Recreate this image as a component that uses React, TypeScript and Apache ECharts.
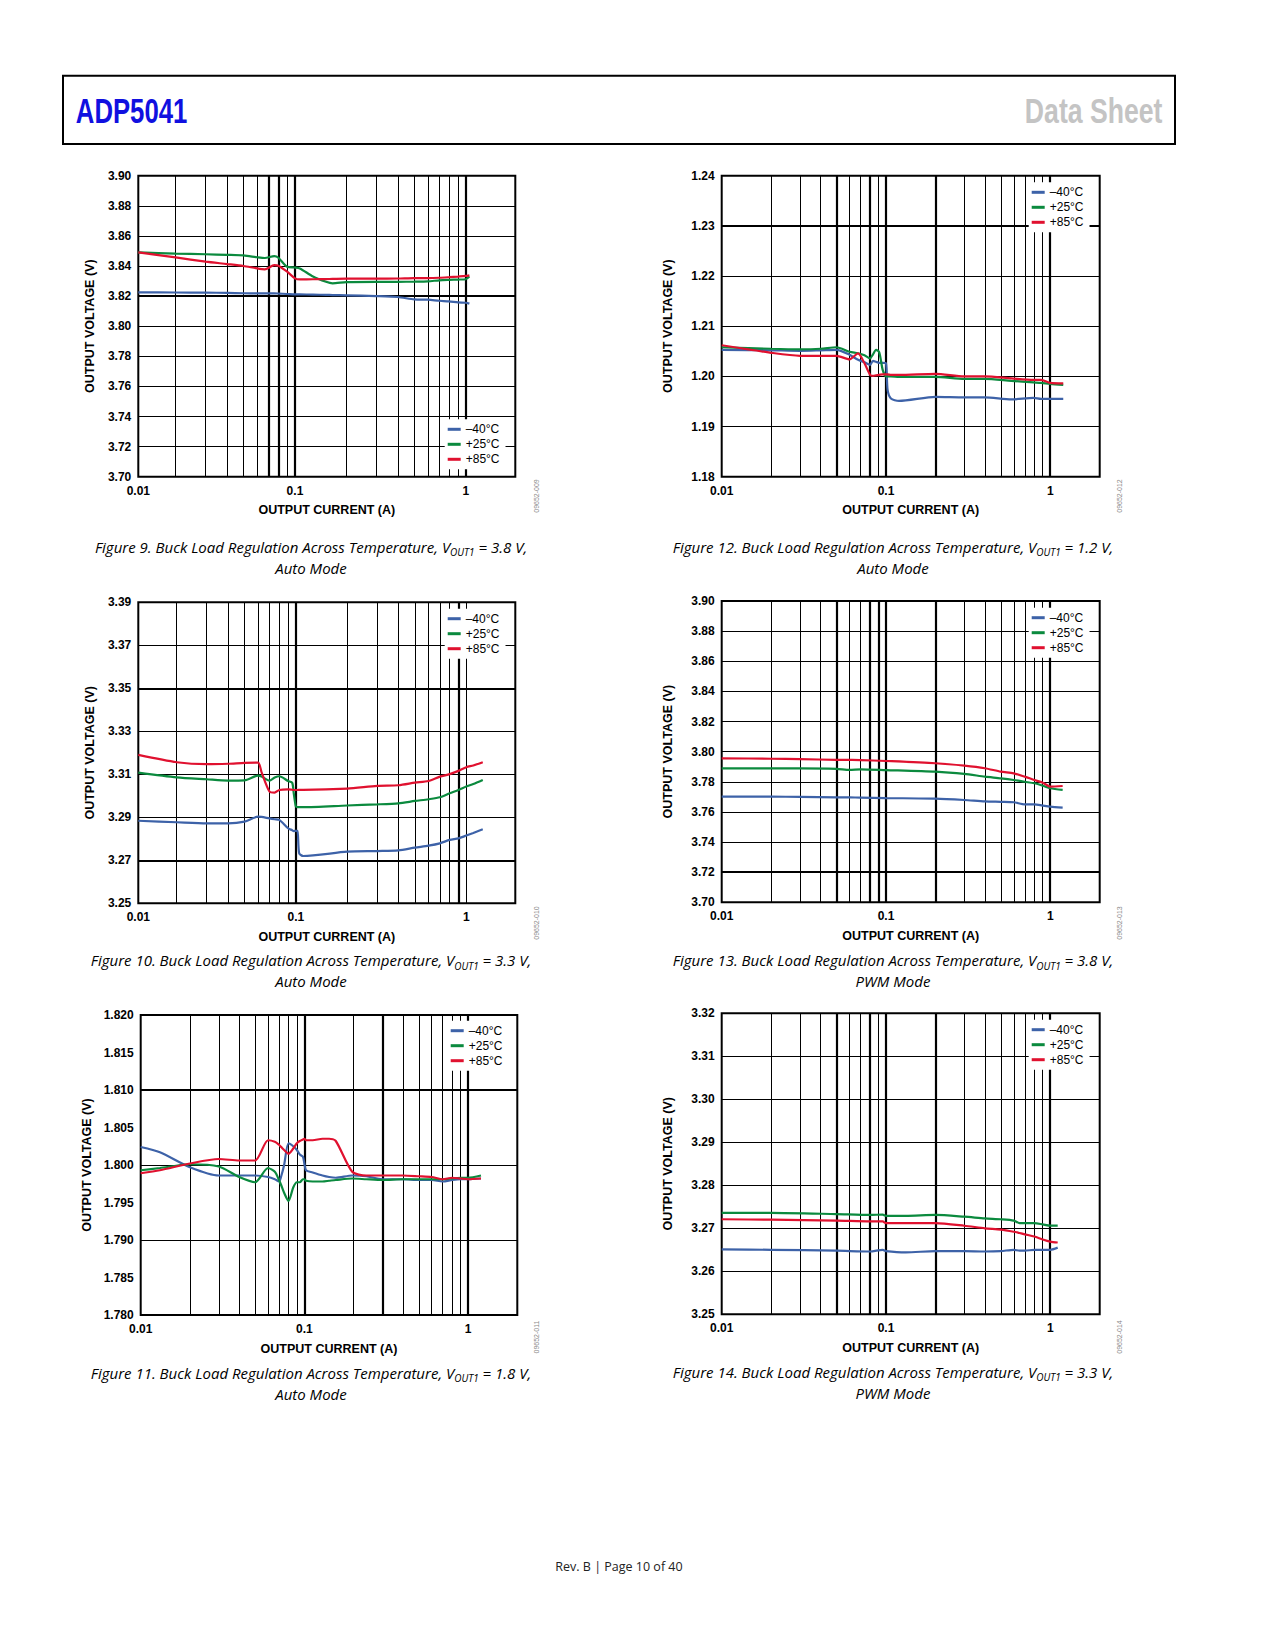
import { useEffect, useRef } from 'react'
import * as echarts from 'echarts'

const TEMPS = ['–40°C', '+25°C', '+85°C']
const COLORS = ['#3d62a8', '#0b8a3e', '#e0112f']
const X_TICK_TEXT = ['0.01', '0.1', '1']
const X_GRID = [0.02, 0.03, 0.04, 0.05, 0.06, 0.07, 0.08, 0.09, 0.1, 0.2, 0.3, 0.4, 0.5, 0.6, 0.7, 0.8, 0.9, 1]

// Figure 9: VOUT1 = 3.8 V, auto mode (its log scale starts a little above 0.01)
const F9_X_RANGE = [0.0121, 1.95]
const F9_I = [0.0121, 0.02, 0.03, 0.04, 0.05, 0.06, 0.0666, 0.0757, 0.08, 0.09, 0.1, 0.1068, 0.1275, 0.152, 0.166, 0.2, 0.3, 0.4, 0.5, 0.6, 0.7, 0.8, 0.9, 1.0, 1.05]
const F9_M40 = [3.8225, 3.8224, 3.8223, 3.8221, 3.8219, 3.8218, 3.8218, 3.8218, 3.8217, 3.8214, 3.8211, 3.8211, 3.821, 3.8208, 3.8207, 3.8205, 3.82, 3.8194, 3.8178, 3.8176, 3.8169, 3.8165, 3.8158, 3.8156, 3.815]
const F9_P25 = [3.849, 3.8482, 3.8478, 3.8474, 3.847, 3.8458, 3.8453, 3.8466, 3.8455, 3.8395, 3.839, 3.8384, 3.833, 3.8295, 3.8285, 3.8293, 3.8295, 3.8295, 3.8296, 3.8298, 3.8305, 3.8308, 3.831, 3.8312, 3.833]
const F9_P85 = [3.849, 3.8457, 3.8429, 3.8413, 3.84, 3.8384, 3.8378, 3.8406, 3.8402, 3.8362, 3.8318, 3.8311, 3.8312, 3.8313, 3.8314, 3.8316, 3.8316, 3.8317, 3.832, 3.832, 3.8322, 3.8326, 3.833, 3.8334, 3.8338]
const F9_Y = [3.7, 3.72, 3.74, 3.76, 3.78, 3.8, 3.82, 3.84, 3.86, 3.88, 3.9]

// Figure 12: VOUT1 = 1.2 V, auto mode
const F12_X_RANGE = [0.01, 2]
const F12_I = [0.01, 0.02, 0.03, 0.04, 0.05, 0.06, 0.0676, 0.074, 0.08, 0.0834, 0.087, 0.091, 0.0955, 0.1, 0.1023, 0.1072, 0.12, 0.2, 0.3, 0.4, 0.58, 0.79, 0.88, 1.0, 1.2]
const F12_M40 = [1.2053, 1.2052, 1.2051, 1.2052, 1.2053, 1.2043, 1.2033, 1.2028, 1.2023, 1.2031, 1.2029, 1.2027, 1.2027, 1.2026, 1.1973, 1.1956, 1.1951, 1.1959, 1.1958, 1.1958, 1.1954, 1.1957, 1.1955, 1.1955, 1.1955]
const F12_P25 = [1.2058, 1.2055, 1.2054, 1.2055, 1.2058, 1.2049, 1.2046, 1.2042, 1.2036, 1.2044, 1.2053, 1.2048, 1.2013, 1.2, 1.2, 1.2, 1.1999, 1.1999, 1.1995, 1.1995, 1.1991, 1.1988, 1.1987, 1.1985, 1.1983]
const F12_P85 = [1.2062, 1.2047, 1.2041, 1.2041, 1.2041, 1.2034, 1.2046, 1.2026, 1.2003, 1.2001, 1.2002, 1.2003, 1.2004, 1.2004, 1.2004, 1.2003, 1.2003, 1.2005, 1.2, 1.2, 1.1996, 1.1993, 1.1993, 1.1987, 1.1986]
const F12_Y = [1.18, 1.19, 1.2, 1.21, 1.22, 1.23, 1.24]

// Figure 10: VOUT1 = 3.3 V, auto mode (log scale starts a little above 0.01)
const F10_X_RANGE = [0.0119, 1.94]
const F10_I = [0.0119, 0.02, 0.03, 0.04, 0.05, 0.06, 0.0629, 0.07, 0.0751, 0.08, 0.09, 0.0952, 0.0972, 0.1, 0.1023, 0.1046, 0.1104, 0.2, 0.3, 0.4, 0.5, 0.6, 0.7, 0.8, 0.9, 1.0, 1.1, 1.25]
const F10_M40 = [3.2884, 3.2877, 3.2872, 3.2872, 3.288, 3.2903, 3.2902, 3.2895, 3.2891, 3.2888, 3.2849, 3.284, 3.2836, 3.2837, 3.2837, 3.2733, 3.272, 3.274, 3.2743, 3.2746, 3.2759, 3.2768, 3.2779, 3.2795, 3.2802, 3.2815, 3.2827, 3.2844]
const F10_P25 = [3.3108, 3.3086, 3.3077, 3.3071, 3.3072, 3.3094, 3.309, 3.3071, 3.3085, 3.3091, 3.3069, 3.3061, 3.3012, 3.295, 3.2947, 3.2947, 3.2947, 3.2955, 3.296, 3.2965, 3.2976, 3.2984, 3.2993, 3.3012, 3.3027, 3.3043, 3.3055, 3.3074]
const F10_P85 = [3.319, 3.3156, 3.3147, 3.3149, 3.3153, 3.3154, 3.311, 3.302, 3.3015, 3.3027, 3.303, 3.3028, 3.3027, 3.3027, 3.3027, 3.3028, 3.3028, 3.3033, 3.3046, 3.3049, 3.3061, 3.3069, 3.3089, 3.3101, 3.3116, 3.3133, 3.3141, 3.3156]
const F10_Y = [3.25, 3.27, 3.29, 3.31, 3.33, 3.35, 3.37, 3.39]

// Figure 13: VOUT1 = 3.8 V, PWM mode
const F13_X_RANGE = [0.01, 2]
const F13_I = [0.01, 0.02, 0.03, 0.05, 0.06, 0.07, 0.1, 0.2, 0.3, 0.4, 0.5, 0.6, 0.7, 0.8, 0.9, 1.0, 1.19]
const F13_M40 = [3.7701, 3.7701, 3.77, 3.7697, 3.7696, 3.7695, 3.7692, 3.7688, 3.7679, 3.767, 3.7667, 3.7664, 3.765, 3.765, 3.7642, 3.7635, 3.7628]
const F13_P25 = [3.7889, 3.7889, 3.7889, 3.7886, 3.7879, 3.7883, 3.7878, 3.7867, 3.7852, 3.7834, 3.7823, 3.7812, 3.78, 3.779, 3.7774, 3.7757, 3.7746]
const F13_P85 = [3.7956, 3.7953, 3.795, 3.7946, 3.7945, 3.7944, 3.7938, 3.7923, 3.7907, 3.789, 3.7867, 3.7856, 3.7834, 3.7812, 3.7794, 3.7768, 3.7772]
const F13_Y = [3.7, 3.72, 3.74, 3.76, 3.78, 3.8, 3.82, 3.84, 3.86, 3.88, 3.9]

// Figure 11: VOUT1 = 1.8 V, auto mode
const F11_X_RANGE = [0.01, 2]
const F11_I = [0.01, 0.0131, 0.02, 0.03, 0.04, 0.05, 0.06, 0.066, 0.07, 0.0722, 0.0752, 0.08, 0.0855, 0.09, 0.0938, 0.098, 0.1, 0.1023, 0.1124, 0.129, 0.1417, 0.1556, 0.196, 0.239, 0.3, 0.4, 0.5, 0.6, 0.7, 0.8, 0.9, 1.0, 1.2]
const F11_M40 = [1.8024, 1.8017, 1.7997, 1.7986, 1.7986, 1.7986, 1.7984, 1.7981, 1.7978, 1.7985, 1.8, 1.8029, 1.8025, 1.802, 1.8014, 1.8011, 1.8002, 1.7993, 1.799, 1.7986, 1.7984, 1.7983, 1.7986, 1.7985, 1.7981, 1.7981, 1.798, 1.798, 1.7978, 1.798, 1.7981, 1.7981, 1.7982]
const F11_P25 = [1.7993, 1.7996, 1.8001, 1.7998, 1.7984, 1.7977, 1.7996, 1.7991, 1.798, 1.7973, 1.7963, 1.7952, 1.797, 1.7977, 1.7977, 1.7981, 1.7981, 1.7979, 1.7978, 1.7978, 1.7979, 1.798, 1.7982, 1.7981, 1.798, 1.7981, 1.7981, 1.7981, 1.7981, 1.7982, 1.7983, 1.7983, 1.7986]
const F11_P85 = [1.7989, 1.7993, 1.8002, 1.8008, 1.8006, 1.8006, 1.8033, 1.8031, 1.8027, 1.8024, 1.802, 1.8015, 1.8022, 1.8029, 1.8032, 1.8034, 1.8035, 1.8033, 1.8033, 1.8035, 1.8035, 1.8032, 1.7991, 1.7986, 1.7986, 1.7986, 1.7985, 1.7984, 1.7981, 1.7983, 1.7982, 1.7981, 1.7982]
const F11_Y = [1.78, 1.785, 1.79, 1.795, 1.8, 1.805, 1.81, 1.815, 1.82]

// Figure 14: VOUT1 = 3.3 V, PWM mode
const F14_X_RANGE = [0.01, 2]
const F14_I = [0.01, 0.02, 0.05, 0.08, 0.0955, 0.1, 0.132, 0.2, 0.3, 0.4, 0.5, 0.6, 0.65, 0.7, 0.8, 0.9, 1.0, 1.11]
const F14_M40 = [3.2651, 3.265, 3.2648, 3.2646, 3.265, 3.2647, 3.2644, 3.2647, 3.2647, 3.2646, 3.2647, 3.265, 3.2648, 3.2648, 3.265, 3.265, 3.265, 3.2655]
const F14_P25 = [3.2736, 3.2736, 3.2733, 3.2731, 3.2732, 3.2729, 3.2729, 3.2731, 3.2727, 3.2723, 3.2721, 3.2718, 3.2712, 3.2712, 3.2712, 3.2709, 3.2706, 3.2706]
const F14_P85 = [3.2721, 3.272, 3.2718, 3.2716, 3.2716, 3.2712, 3.2712, 3.2712, 3.2706, 3.27, 3.2697, 3.2692, 3.2689, 3.2686, 3.2681, 3.2674, 3.2669, 3.2667]
const F14_Y = [3.25, 3.26, 3.27, 3.28, 3.29, 3.3, 3.31, 3.32]

const PANELS = [
  { fig: 9, xRange: F9_X_RANGE, cur: F9_I, vals: [F9_M40, F9_P25, F9_P85], yTicks: F9_Y, step: 0.02, dec: 2, thickX: [0.07, 0.08, 0.1, 1], thickY: [3.82], vout: '3.8', mode: 'Auto Mode', id: '09652-009' },
  { fig: 12, xRange: F12_X_RANGE, cur: F12_I, vals: [F12_M40, F12_P25, F12_P85], yTicks: F12_Y, step: 0.01, dec: 2, thickX: [0.05, 0.08, 0.1, 0.2, 1], thickY: [1.23], vout: '1.2', mode: 'Auto Mode', id: '09652-012' },
  { fig: 10, xRange: F10_X_RANGE, cur: F10_I, vals: [F10_M40, F10_P25, F10_P85], yTicks: F10_Y, step: 0.01, dec: 2, thickX: [0.1, 0.9], thickY: [3.35, 3.27], vout: '3.3', mode: 'Auto Mode', id: '09652-010' },
  { fig: 13, xRange: F13_X_RANGE, cur: F13_I, vals: [F13_M40, F13_P25, F13_P85], yTicks: F13_Y, step: 0.02, dec: 2, thickX: [0.05, 0.08, 0.09, 0.1, 0.2, 1], thickY: [3.72], vout: '3.8', mode: 'PWM Mode', id: '09652-013' },
  { fig: 11, xRange: F11_X_RANGE, cur: F11_I, vals: [F11_M40, F11_P25, F11_P85], yTicks: F11_Y, step: 0.005, dec: 3, thickX: [0.1, 0.3, 1], thickY: [1.815], vout: '1.8', mode: 'Auto Mode', id: '09652-011' },
  { fig: 14, xRange: F14_X_RANGE, cur: F14_I, vals: [F14_M40, F14_P25, F14_P85], yTicks: F14_Y, step: 0.01, dec: 2, thickX: [0.05, 0.08, 0.1, 0.2, 1], thickY: [], vout: '3.3', mode: 'PWM Mode', id: '09652-014' },
]

// page layout, pixels
const LAYOUT = [
  { box: [138.3, 175.7, 377, 301], yGap: 42, legend: [444.7, 419.3], cap: [311, 548], idPos: [536, 496] },
  { box: [721.7, 175.7, 378, 301], yGap: 47, legend: [1028.7, 182.3], cap: [893, 548], idPos: [1119, 496] },
  { box: [138.3, 602.3, 377, 301], yGap: 42, legend: [444.7, 608.7], cap: [311, 961.5], idPos: [536, 923] },
  { box: [721.7, 601, 378, 301.3], yGap: 47, legend: [1028.7, 607.7], cap: [893, 961.5], idPos: [1119, 923] },
  { box: [140.7, 1015, 376.6, 300], yGap: 47, legend: [447.7, 1020.7], cap: [311, 1374], idPos: [536, 1337] },
  { box: [721.7, 1013.3, 378, 301], yGap: 47, legend: [1028.7, 1019.7], cap: [893, 1373], idPos: [1119, 1337] },
]

const AXIS_FONT = 'Liberation Sans, Arial, sans-serif'
const CAP_FONT = 'Open Sans, sans-serif'

const near = (a: number, b: number) => Math.abs(a - b) < Math.abs(b) * 1e-6 + 1e-9

function buildOption(): echarts.EChartsOption {
  const grid: any[] = []
  const xAxis: any[] = []
  const yAxis: any[] = []
  const series: any[] = []
  const legend: any[] = []
  const graphic: any[] = []

  PANELS.forEach((p, i) => {
    const L = LAYOUT[i]
    const [left, top, width, height] = L.box
    const xTicks = [p.xRange[0], 0.1, 1]
    grid.push({
      left, top, width, height,
      show: true,
      borderColor: '#000',
      borderWidth: 2,
      backgroundColor: 'transparent',
      containLabel: false,
      outerBoundsMode: 'none',
    })
    xAxis.push({
      type: 'log',
      logBase: 10,
      gridIndex: i,
      min: p.xRange[0],
      max: p.xRange[1],
      axisLine: { show: false },
      axisTick: { show: false },
      splitLine: { show: false },
      axisLabel: {
        margin: 8,
        color: '#000',
        fontFamily: AXIS_FONT,
        fontWeight: 'bold',
        fontSize: 12,
        showMinLabel: true,
        showMaxLabel: true,
        formatter: (v: number) => {
          const k = xTicks.findIndex((l) => near(v, l))
          return k >= 0 ? X_TICK_TEXT[k] : ''
        },
      },
      name: 'OUTPUT CURRENT (A)',
      nameLocation: 'middle',
      nameGap: 27,
      nameTextStyle: { color: '#000', fontFamily: AXIS_FONT, fontWeight: 'bold', fontSize: 12.5 },
    })
    const yMin = p.yTicks[0]
    const yMax = p.yTicks[p.yTicks.length - 1]
    yAxis.push({
      type: 'value',
      gridIndex: i,
      min: yMin,
      max: yMax,
      interval: p.step,
      axisLine: { show: false },
      axisTick: { show: false },
      splitLine: { show: false },
      axisLabel: {
        interval: 0,
        margin: 7,
        color: '#000',
        fontFamily: AXIS_FONT,
        fontWeight: 'bold',
        fontSize: 12,
        showMinLabel: true,
        showMaxLabel: true,
        formatter: (v: number) => {
          const m = p.yTicks.find((t) => near(v, t))
          return m !== undefined ? m.toFixed(p.dec) : ''
        },
      },
      name: 'OUTPUT VOLTAGE (V)',
      nameLocation: 'middle',
      nameGap: L.yGap,
      nameTextStyle: { color: '#000', fontFamily: AXIS_FONT, fontWeight: 'bold', fontSize: 12.5 },
    })

    const gridLines = [
      ...X_GRID.map((v) => ({
        xAxis: v,
        lineStyle: { color: '#000', type: 'solid', width: p.thickX.some((t) => near(v, t)) ? 2.2 : 1 },
      })),
      ...p.yTicks.slice(1, -1).map((v) => ({
        yAxis: v,
        lineStyle: { color: '#000', type: 'solid', width: p.thickY.some((t) => near(v, t)) ? 2.2 : 1 },
      })),
    ]

    p.vals.forEach((vals, k) => {
      series.push({
        type: 'line',
        name: TEMPS[k],
        xAxisIndex: i,
        yAxisIndex: i,
        data: p.cur.map((c, j) => [c, vals[j]]),
        showSymbol: false,
        smooth: 0.25,
        color: COLORS[k],
        lineStyle: { width: 2.2, color: COLORS[k] },
        z: 3,
        silent: true,
        markLine:
          k === 0
            ? {
                silent: true,
                z: 1,
                symbol: ['none', 'none'],
                label: { show: false },
                emphasis: { disabled: true },
                data: gridLines,
              }
            : undefined,
      })
    })

    legend.push({
      orient: 'vertical',
      left: L.legend[0],
      top: L.legend[1],
      data: TEMPS,
      backgroundColor: '#fff',
      padding: [3, 6, 3, 3],
      itemGap: 1,
      itemWidth: 13,
      itemHeight: 3,
      icon: 'rect',
      selectedMode: false,
      z: 4,
      textStyle: { color: '#000', fontFamily: AXIS_FONT, fontSize: 12, lineHeight: 14 },
    })

    // caption
    graphic.push({
      type: 'text',
      x: L.cap[0],
      y: L.cap[1],
      style: {
        text: `{i|Figure ${p.fig}. Buck Load Regulation Across Temperature, V}{s|OUT1}{i| = ${p.vout} V,}`,
        align: 'center',
        verticalAlign: 'middle',
        textAlign: 'center',
        textVerticalAlign: 'middle',
        rich: {
          i: { fontFamily: CAP_FONT, fontStyle: 'italic', fontSize: 15, fill: '#000', lineHeight: 18, verticalAlign: 'top' },
          s: { fontFamily: CAP_FONT, fontStyle: 'italic', fontSize: 10, fill: '#000', lineHeight: 10, verticalAlign: 'bottom' },
        },
      },
    })
    graphic.push({
      type: 'text',
      x: L.cap[0],
      y: L.cap[1] + 19.5,
      style: {
        text: p.mode,
        align: 'center',
        verticalAlign: 'middle',
        textAlign: 'center',
        textVerticalAlign: 'middle',
        fontFamily: CAP_FONT,
        fontStyle: 'italic',
        fontSize: 15,
        fill: '#000',
      },
    })
    graphic.push({
      type: 'text',
      x: L.idPos[0],
      y: L.idPos[1],
      rotation: Math.PI / 2,
      style: {
        text: p.id,
        align: 'center',
        verticalAlign: 'middle',
        textAlign: 'center',
        textVerticalAlign: 'middle',
        fontFamily: AXIS_FONT,
        fontSize: 7,
        fill: '#8a8a8a',
      },
    })
  })

  graphic.push(
    {
      type: 'rect',
      shape: { x: 63, y: 75.7, width: 1112, height: 68.3 },
      style: { fill: 'none', stroke: '#000', lineWidth: 2 },
    },
    {
      type: 'text',
      x: 75.8,
      y: 110.7,
      scaleX: 0.715,
      style: {
        text: 'ADP5041',
        align: 'left',
        verticalAlign: 'middle',
        textAlign: 'left',
        textVerticalAlign: 'middle',
        fontFamily: AXIS_FONT,
        fontWeight: 'bold',
        fontSize: 36,
        fill: '#1010e0',
      },
    },
    {
      type: 'text',
      x: 1162.5,
      y: 110.7,
      scaleX: 0.74,
      style: {
        text: 'Data Sheet',
        align: 'right',
        verticalAlign: 'middle',
        textAlign: 'right',
        textVerticalAlign: 'middle',
        fontFamily: AXIS_FONT,
        fontWeight: 'bold',
        fontSize: 36,
        fill: '#c4c4c4',
      },
    },
    {
      type: 'text',
      x: 619,
      y: 1566,
      style: {
        text: 'Rev. B | Page 10 of 40',
        align: 'center',
        verticalAlign: 'middle',
        textAlign: 'center',
        textVerticalAlign: 'middle',
        fontFamily: CAP_FONT,
        fontSize: 12.5,
        fill: '#222',
      },
    },
  )

  return {
    animation: false,
    backgroundColor: '#fff',
    textStyle: { fontFamily: AXIS_FONT },
    grid,
    xAxis,
    yAxis,
    legend,
    series,
    graphic,
  }
}

export default function App() {
  const chartRef = useRef<HTMLDivElement>(null)

  useEffect(() => {
    if (!chartRef.current) return
    const chart = echarts.init(chartRef.current, undefined, { renderer: 'svg' })
    chart.setOption(buildOption())
    return () => {
      chart.dispose()
    }
  }, [])

  return (
    <div
      ref={chartRef}
      style={{ position: 'absolute', left: 0, top: 0, width: '1275px', height: '1650px', background: '#fff' }}
    />
  )
}
